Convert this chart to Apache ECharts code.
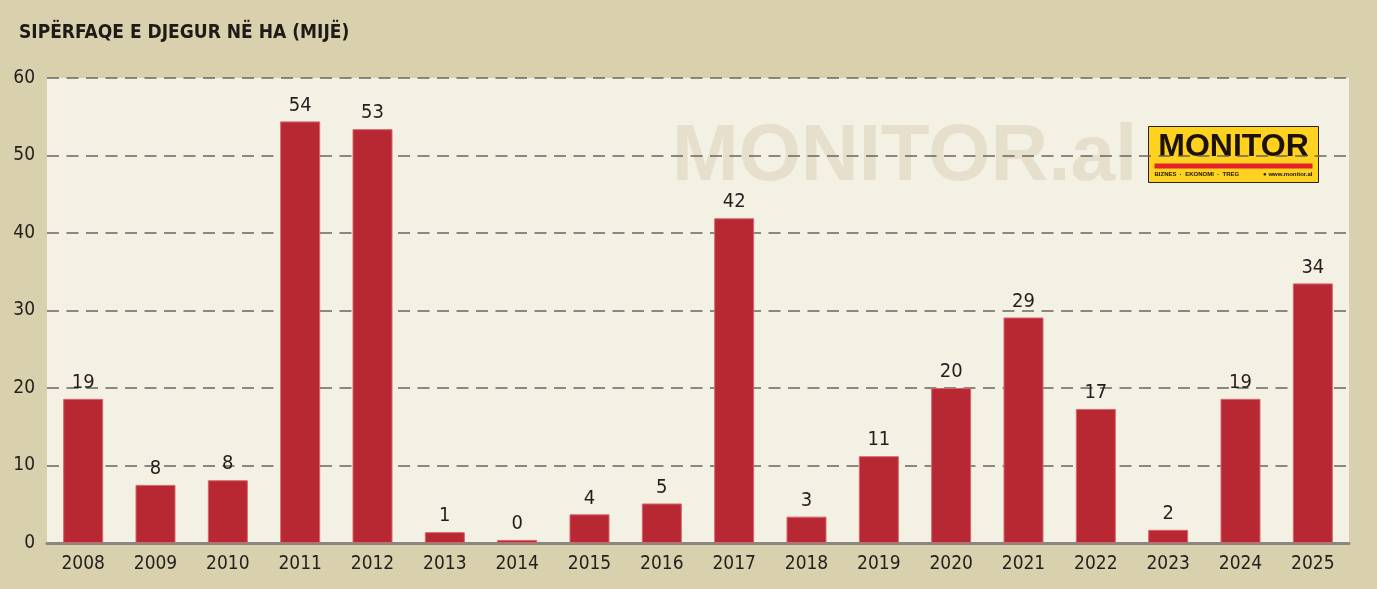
<!DOCTYPE html>
<html lang="sq">
<head>
    <meta charset="UTF-8">
    <script src="https://cdn.jsdelivr.net/npm/echarts@6/dist/echarts.min.js"></script>
    <style type="text/css">
        html, body, #main {
            height: 100%;
            width: 100%;
            margin: 0;
            padding: 0;
            background: #d9d0ad;
        }
    </style>
    <title>Sipërfaqe e djegur</title>
</head>
<body>
<div id="main"></div>
<script>
    // vitet dhe sipërfaqja e djegur (mijë ha), lexuar nga grafiku
    var years = ['2008', '2009', '2010', '2011', '2012', '2013', '2014', '2015', '2016',
        '2017', '2018', '2019', '2020', '2021', '2022', '2023', '2024', '2025'];
    var burned = [18.6, 7.5, 8.1, 54.4, 53.4, 1.4, 0.4, 3.7, 5.1,
        41.9, 3.4, 11.2, 20.0, 29.1, 17.3, 1.7, 18.6, 33.5];
    var shown = [19, 8, 8, 54, 53, 1, 0, 4, 5, 42, 3, 11, 20, 29, 17, 2, 19, 34];
    var yTicks = [0, 10, 20, 30, 40, 50, 60];

    var narrow = "'DejaVu Sans Condensed', sans-serif";

    var myChart = echarts.init(document.getElementById('main'));
    var option = {
        backgroundColor: '#d9d0ad',
        animation: false,
        title: {
            text: 'SIPËRFAQE E DJEGUR NË HA (MIJË)',
            left: 14,
            top: 19,
            textStyle: {
                fontFamily: narrow,
                fontWeight: 'bold',
                fontSize: 19,
                color: '#1e1a16'
            }
        },
        grid: {
            left: 47,
            right: 28,
            top: 78,
            bottom: 46,
            show: true,
            backgroundColor: '#f3f0e4',
            borderWidth: 0
        },
        graphic: [
            {
                type: 'text',
                left: 672,
                top: 118,
                z: 0,
                style: {
                    text: 'MONITOR.al',
                    font: "bold 80px 'Liberation Sans', Arial, sans-serif",
                    fill: '#e5dfcb'
                }
            },
            {
                type: 'group',
                left: 1148,
                top: 126,
                children: [
                    {
                        type: 'rect',
                        shape: {x: 0, y: 0, width: 170, height: 56},
                        style: {fill: '#ffd21f', stroke: '#2a2010', lineWidth: 1}
                    },
                    {
                        type: 'text',
                        x: 85, y: 21,
                        style: {
                            text: 'MONITOR',
                            font: "bold 32px 'Liberation Sans', Arial, sans-serif",
                            fill: '#1c1208',
                            align: 'center',
                            verticalAlign: 'middle'
                        }
                    },
                    {
                        type: 'rect',
                        shape: {x: 6, y: 37, width: 158, height: 5},
                        style: {fill: '#e4202a'}
                    },
                    {
                        type: 'text',
                        x: 6, y: 48,
                        style: {
                            text: 'BIZNES  ·  EKONOMI  ·  TREG',
                            font: "bold 6px 'Liberation Sans', Arial, sans-serif",
                            fill: '#1c1208',
                            verticalAlign: 'middle'
                        }
                    },
                    {
                        type: 'text',
                        x: 164, y: 48,
                        style: {
                            text: '● www.monitor.al',
                            font: "bold 6px 'Liberation Sans', Arial, sans-serif",
                            fill: '#1c1208',
                            align: 'right',
                            verticalAlign: 'middle'
                        }
                    }
                ]
            }
        ],
        xAxis: {
            type: 'category',
            data: years,
            axisLine: {lineStyle: {color: '#8a8680', width: 3}},
            axisTick: {show: false},
            axisLabel: {
                fontFamily: narrow,
                fontSize: 19,
                color: '#231f1c',
                margin: 12
            }
        },
        yAxis: {
            type: 'value',
            min: yTicks[0],
            max: yTicks[yTicks.length - 1],
            interval: 10,
            axisLine: {show: false},
            axisTick: {show: false},
            axisLabel: {
                fontFamily: narrow,
                fontSize: 19,
                color: '#231f1c',
                margin: 12
            },
            splitLine: {
                lineStyle: {color: '#6a665e', type: [12, 7.5], width: 1.5}
            }
        },
        series: [
            {
                type: 'bar',
                data: burned,
                barWidth: 40,
                z: 3,
                itemStyle: {
                    color: '#b82832',
                    borderColor: '#d7666c',
                    borderWidth: 1
                },
                label: {
                    show: true,
                    position: 'top',
                    distance: 6,
                    fontFamily: narrow,
                    fontSize: 20,
                    color: '#231f1c',
                    formatter: function (p) {
                        return shown[p.dataIndex];
                    }
                }
            }
        ]
    };
    myChart.setOption(option);
</script>
</body>
</html>
